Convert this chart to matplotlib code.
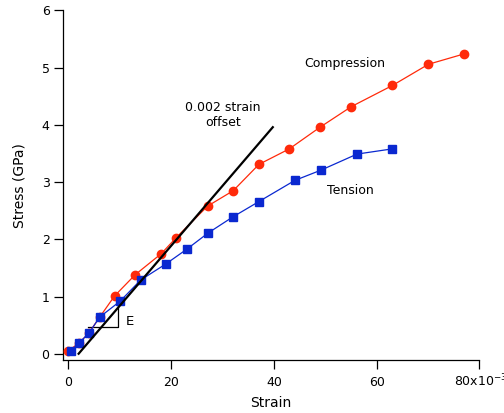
import numpy as np
import matplotlib
matplotlib.use("Agg")
import matplotlib.pyplot as plt

# ===============================
# dados (strain em 1e-3, stress em GPa)
# ===============================
tens_strain = [0.5, 2.1, 4.0, 6.1, 10.1, 14.1, 19.0, 23.1, 27.2, 32.0, 37.1, 44.1, 49.2, 56.2, 63.0]
tens_stress = [0.05, 0.19, 0.36, 0.64, 0.92, 1.29, 1.57, 1.83, 2.11, 2.39, 2.66, 3.03, 3.21, 3.49, 3.58]

comp_strain = [0.0, 2.1, 4.0, 6.1, 9.0, 13.0, 18.1, 21.0, 27.1, 32.1, 37.1, 43.0, 49.0, 55.1, 63.1, 70.1, 77.0]
comp_stress = [0.05, 0.19, 0.36, 0.64, 1.01, 1.38, 1.75, 2.03, 2.58, 2.85, 3.31, 3.58, 3.96, 4.32, 4.69, 5.06, 5.24]

offset_strain = [2.0, 39.8]
offset_stress = [0.0, 3.96]

tri_x = [3.9, 9.6, 9.6]
tri_y = [0.46, 0.46, 1.04]

xticks = [0, 20, 40, 60, 80]
xticklabels = ["0", "20", "40", "60", ""]
last_label = "80x10$^{-3}$"
yticks = [0, 1, 2, 3, 4, 5, 6]

RED = "#ff2a0a"
BLUE = "#0a28d0"

# ===============================
# figura
# ===============================
plt.rcParams["font.family"] = "DejaVu Sans"
fig = plt.figure(figsize=(5.04, 4.13), dpi=100)
ax = fig.add_axes([0.1244, 0.1283, 0.8266, 0.8463])

ax.plot(comp_strain, comp_stress, color=RED, lw=0.9, marker="o", ms=6, mec=RED, mfc=RED, zorder=3)
ax.plot(tens_strain, tens_stress, color=BLUE, lw=0.9, marker="s", ms=6.2, mec=BLUE, mfc=BLUE, zorder=4)
ax.plot(offset_strain, offset_stress, color="black", lw=1.6, zorder=5)
ax.plot(tri_x, tri_y, color="black", lw=0.9, zorder=2)

ax.text(12.0, 0.57, "E", fontsize=9.5, ha="center", va="center")
ax.text(53.9, 5.07, "Compression", fontsize=9, ha="center", va="center")
ax.text(54.9, 2.86, "Tension", fontsize=9, ha="center", va="center")
ax.text(30.1, 4.17, "0.002 strain\noffset", fontsize=9, ha="center", va="center", linespacing=1.15)

ax.set_xlim(-1.1, 80)
ax.set_ylim(-0.11, 6.0)
ax.set_xticks(xticks)
ax.set_xticklabels(xticklabels)
ax.set_yticks(yticks)

# rótulo 80x10^-3 alinhado pela linha de base
ax.annotate(last_label, xy=(80, 0), xycoords=ax.get_xaxis_transform(),
            xytext=(1, -18.8), textcoords="offset points",
            ha="center", va="baseline", fontsize=9, annotation_clip=False)

for s in ["top", "right"]:
    ax.spines[s].set_visible(False)
for s in ["left", "bottom"]:
    ax.spines[s].set_linewidth(0.9)
ax.tick_params(direction="out", length=6.5, width=0.9, labelsize=9)
ax.tick_params(axis="x", pad=5)
ax.tick_params(axis="y", pad=3)

ax.set_xlabel("Strain", fontsize=10, labelpad=5)
ax.set_ylabel("Stress (GPa)", fontsize=10, labelpad=11)

fig.savefig("out.png", dpi=100)
